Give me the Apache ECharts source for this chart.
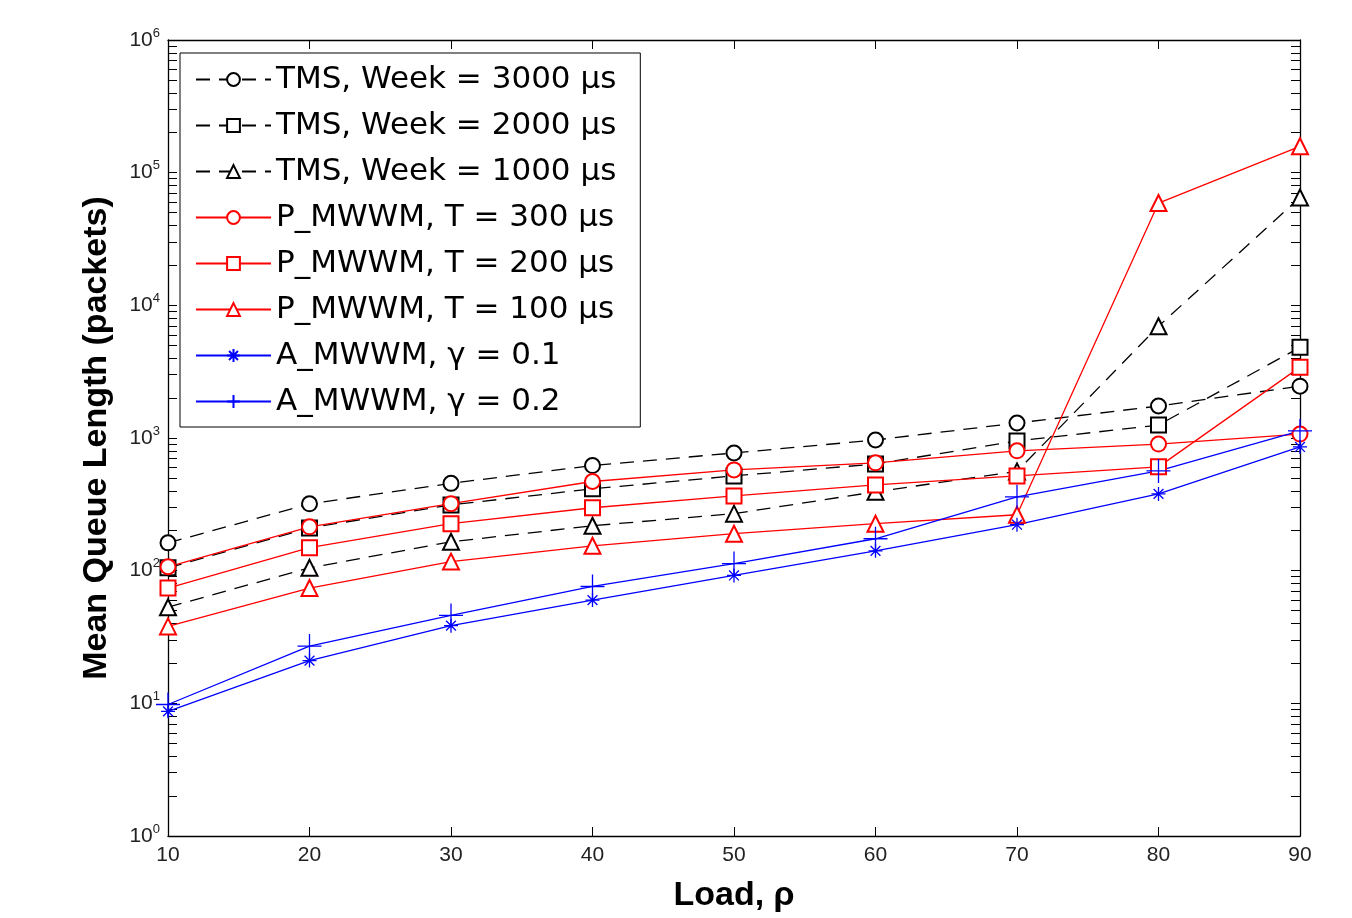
<!DOCTYPE html>
<html>
<head>
<meta charset="utf-8">
<script src="https://cdn.jsdelivr.net/npm/echarts@6/dist/echarts.min.js"></script>
<style>
  html, body { margin: 0; padding: 0; background: #fff; }
  #main { width: 1352px; height: 918px; }
</style>
</head>
<body>
<div id="main"></div>
<script>
// 横轴：负载
const loads = [10, 20, 30, 40, 50, 60, 70, 80, 90];

// 各曲线的平均队列长度（packets）
const tms3000 = [162, 319, 455, 620, 771, 966, 1297, 1742, 2460];
const tms2000 = [105, 210, 313, 414, 518, 637, 949, 1252, 4830];
const tms1000 = [53, 105, 165, 218, 269, 393, 560, 6960, 65000];
const pmwm300 = [107, 214, 320, 470, 575, 650, 800, 900, 1070];
const pmwm200 = [74, 149, 226, 298, 366, 443, 518, 606, 3420];
const pmwm100 = [38, 74, 117, 154, 190, 226, 264, 59000, 158000];
const amwm01 = [8.7, 21, 38.5, 60, 92, 141, 222, 379, 856];
const amwm02 = [9.8, 27, 46, 76, 113, 174, 360, 565, 1130];

const names = [
	"TMS, Week = 3000 μs",
	"TMS, Week = 2000 μs",
	"TMS, Week = 1000 μs",
	"P_MWWM, T = 300 μs",
	"P_MWWM, T = 200 μs",
	"P_MWWM, T = 100 μs",
	"A_MWWM, γ = 0.1",
	"A_MWWM, γ = 0.2",
];

// 对数轴刻度 1..9 x 10^k
const logTicks = [];
for (let k = 0; k < 6; k++) {
	for (let m = 1; m < 10; m++) logTicks.push(m * Math.pow(10, k));
}
logTicks.push(1e6);

const asterisk = "path://M0,-10L0,10M-10,0L10,0M-7,-7L7,7M-7,7L7,-7";
const plus = "path://M0,-10L0,10M-10,0L10,0";

const pair = (arr) => arr.map((v, i) => [loads[i], v]);

const makeSeries = (name, data, color, dashed, symbol, size) => ({
	name: name,
	type: "line",
	data: pair(data),
	symbol: symbol,
	symbolSize: size,
	showSymbol: true,
	lineStyle: {
		color: color,
		width: 1.3,
		type: dashed ? [14, 9] : "solid",
	},
	itemStyle: {
		color: color,
		borderColor: color,
		borderWidth: 1.3,
	},
	emphasis: { disabled: true },
	z: 3,
});

const chart = echarts.init(document.getElementById("main"));

const tickLabel = {
	color: "#222",
	fontSize: 21,
	fontFamily: "Liberation Sans, Arial, sans-serif",
};

const titleStyle = {
	fontSize: 34,
	fontWeight: "bold",
	color: "#000",
	fontFamily: "Liberation Sans, Arial, sans-serif",
};

chart.setOption({
	animation: false,
	grid: { left: 168, right: 52, top: 40, bottom: 80 },
	legend: {
		orient: "vertical",
		left: 180,
		top: 53,
		padding: [11, 24, 10, 15],
		itemWidth: 75,
		itemHeight: 16,
		itemGap: 15,
		backgroundColor: "#fff",
		borderColor: "#000",
		borderWidth: 1,
		textStyle: {
			fontSize: 31,
			color: "#000",
			fontFamily: "DejaVu Sans, Arial, sans-serif",
		},
		data: names,
	},
	xAxis: [
		{
			type: "value",
			min: 10,
			max: 90,
			interval: 10,
			name: "Load, ρ",
			nameLocation: "middle",
			nameGap: 43,
			nameTextStyle: titleStyle,
			axisLine: { show: true, lineStyle: { color: "#000", width: 1.3 } },
			axisTick: { show: true, inside: true, length: 9, lineStyle: { color: "#000" } },
			axisLabel: Object.assign({ margin: 9 }, tickLabel),
			splitLine: { show: false },
		},
		{
			type: "value",
			position: "top",
			min: 10,
			max: 90,
			interval: 10,
			axisLine: { show: true, lineStyle: { color: "#000", width: 1.3 } },
			axisTick: { show: true, inside: true, length: 9, lineStyle: { color: "#000" } },
			axisLabel: { show: false },
			splitLine: { show: false },
		},
	],
	yAxis: [
		{
			type: "log",
			logBase: 10,
			min: 1,
			max: 1e6,
			name: "Mean Queue Length (packets)",
			nameLocation: "middle",
			nameGap: 54,
			nameRotate: 90,
			nameTextStyle: titleStyle,
			axisLine: { show: true, lineStyle: { color: "#000", width: 1.3 } },
			axisTick: {
				show: true,
				inside: true,
				length: 9,
				customValues: logTicks,
				lineStyle: { color: "#000" },
			},
			axisLabel: {
				margin: 8,
				formatter: (v) => "{b|10}{s|" + Math.round(Math.log10(v)) + "}",
				rich: {
					b: Object.assign({}, tickLabel),
					s: Object.assign({}, tickLabel, { fontSize: 13, padding: [0, 0, 14, 0] }),
				},
			},
			splitLine: { show: false },
		},
		{
			type: "log",
			logBase: 10,
			min: 1,
			max: 1e6,
			position: "right",
			axisLine: { show: true, lineStyle: { color: "#000", width: 1.3 } },
			axisTick: {
				show: true,
				inside: true,
				length: 9,
				customValues: logTicks,
				lineStyle: { color: "#000" },
			},
			axisLabel: { show: false },
			splitLine: { show: false },
		},
	],
	series: [
		makeSeries(names[0], tms3000, "#000", true, "emptyCircle", 15),
		makeSeries(names[1], tms2000, "#000", true, "emptyRect", 15),
		makeSeries(names[2], tms1000, "#000", true, "emptyTriangle", 16),
		makeSeries(names[3], pmwm300, "#ff0000", false, "emptyCircle", 15),
		makeSeries(names[4], pmwm200, "#ff0000", false, "emptyRect", 15),
		makeSeries(names[5], pmwm100, "#ff0000", false, "emptyTriangle", 16),
		makeSeries(names[6], amwm01, "#0000ff", false, asterisk, 14),
		makeSeries(names[7], amwm02, "#0000ff", false, plus, 24),
	],
});
</script>
</body>
</html>
